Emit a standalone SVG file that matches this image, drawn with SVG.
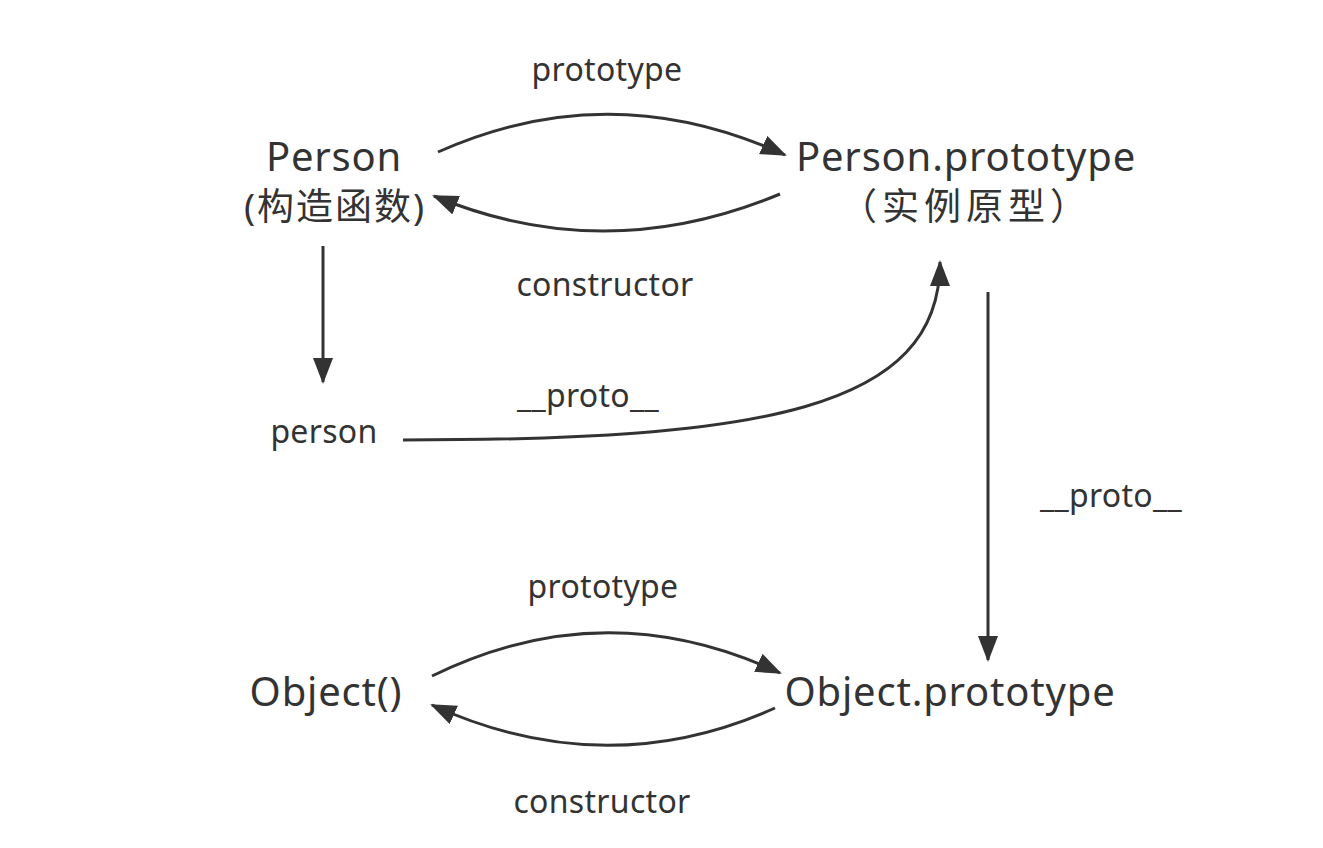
<svg xmlns="http://www.w3.org/2000/svg" width="1323" height="848" viewBox="0 0 1323 848">
<style>
.n{font-family:"Noto Sans","Noto Sans CJK SC",sans-serif;fill:#333;text-anchor:middle}
.big{font-size:40px;letter-spacing:0.8px}
.cjk{font-size:37px;letter-spacing:2px}
.lbl{font-size:32px;letter-spacing:0.3px}
.c{fill:none;stroke:#333;stroke-width:3}
</style>
<defs>
<marker id="ah" markerUnits="userSpaceOnUse" markerWidth="28" markerHeight="22" refX="24" refY="10" orient="auto">
<path d="M0,0 L26,10 L0,20 z" fill="#333"/>
</marker>
</defs>
<rect width="1323" height="848" fill="#fff"/>
<g id="connectors">
<path class="c" d="M438,152 Q610,75 785,155" marker-end="url(#ah)"/>
<path class="c" d="M780,194 Q605,267 434,196" marker-end="url(#ah)"/>
<path class="c" d="M323,246 L323,382" marker-end="url(#ah)"/>
<path class="c" d="M403,440 C760,440 940,410 940,262" marker-end="url(#ah)"/>
<path class="c" d="M988,292 L988,660" marker-end="url(#ah)"/>
<path class="c" d="M432,676 Q605,591 780,673" marker-end="url(#ah)"/>
<path class="c" d="M775,708 Q605,784 432,705" marker-end="url(#ah)"/>
<text class="n lbl" x="607" y="81">prototype</text>
<text class="n lbl" x="605" y="296">constructor</text>
<text class="n lbl" x="588" y="407">__proto__</text>
<text class="n lbl" x="1111" y="507">__proto__</text>
<text class="n lbl" x="603" y="598">prototype</text>
<text class="n lbl" x="602" y="813">constructor</text>
</g>
<g id="node-person-constructor">
<text class="n big" x="334" y="171">Person</text>
<text class="n cjk" x="335" y="220">(构造函数)</text>
</g>
<g id="node-person-prototype">
<text class="n big" x="966" y="171">Person.prototype</text>
<text class="n cjk" x="966" y="220" style="letter-spacing:5px">（实例原型）</text>
</g>
<g id="node-person-instance">
<text class="n lbl" x="324" y="443">person</text>
</g>
<g id="node-object">
<text class="n big" x="326" y="706">Object()</text>
</g>
<g id="node-object-prototype">
<text class="n big" x="950" y="706">Object.prototype</text>
</g>
</svg>
